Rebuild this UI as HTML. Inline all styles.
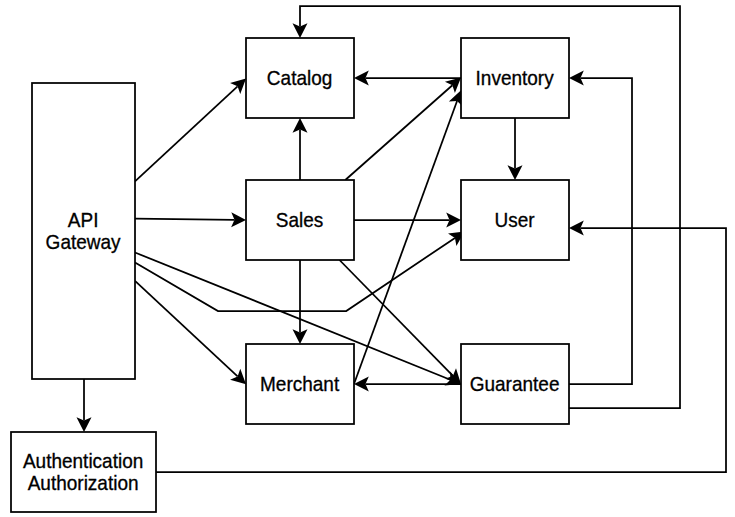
<!DOCTYPE html>
<html><head><meta charset="utf-8"><style>
html,body{margin:0;padding:0;background:#fff;}
svg{display:block;}
.ln{fill:none;stroke:#000;stroke-width:1.75;stroke-linejoin:miter;}
.bx{fill:#fff;stroke:#000;stroke-width:1.75;}
path{fill:#000;}
text{font-family:"Liberation Sans",sans-serif;font-size:19px;text-anchor:middle;fill:#000;stroke:#000;stroke-width:0.3px;}
</style></head><body>
<svg width="735" height="517" viewBox="0 0 735 517">
<path class="ln" d="M569.00,408.00 L680.00,408.00 L680.00,6.00 L300.00,6.00 L300.00,26.50"/>
<path d="M300.00,38.00L292.50,23.20L300.00,26.50L307.50,23.20Z"/>
<path class="ln" d="M569.00,384.00 L632.00,384.00 L632.00,78.00 L580.50,78.00"/>
<path d="M569.00,78.00L583.80,70.50L580.50,78.00L583.80,85.50Z"/>
<path class="ln" d="M156.00,472.00 L726.00,472.00 L726.00,228.00 L580.50,228.00"/>
<path d="M569.00,228.00L583.80,220.50L580.50,228.00L583.80,235.50Z"/>
<path class="ln" d="M135.00,181.40 L237.57,86.32"/>
<path d="M246.00,78.50L240.25,94.06L237.57,86.32L230.05,83.06Z"/>
<path class="ln" d="M135.00,218.70 L234.50,219.87"/>
<path d="M246.00,220.00L231.11,227.33L234.50,219.87L231.29,212.33Z"/>
<path class="ln" d="M135.00,252.50 L450.33,379.70"/>
<path d="M461.00,384.00L444.47,385.42L450.33,379.70L450.08,371.51Z"/>
<path class="ln" d="M135.00,262.40 L218.00,311.00 L346.20,311.00 L454.96,237.91"/>
<path d="M464.50,231.50L456.40,245.98L454.96,237.91L448.03,233.53Z"/>
<path class="ln" d="M135.00,280.80 L237.59,376.46"/>
<path d="M246.00,384.30L230.06,379.69L237.59,376.46L240.29,368.72Z"/>
<path class="ln" d="M84.00,379.00 L84.00,420.50"/>
<path d="M84.00,432.00L76.50,417.20L84.00,420.50L91.50,417.20Z"/>
<path class="ln" d="M300.00,180.00 L300.00,129.50"/>
<path d="M300.00,118.00L307.50,132.80L300.00,129.50L292.50,132.80Z"/>
<path class="ln" d="M345.30,180.00 L452.39,85.22"/>
<path d="M461.00,77.60L454.89,93.03L452.39,85.22L444.95,81.79Z"/>
<path class="ln" d="M354.00,220.00 L449.50,220.00"/>
<path d="M461.00,220.00L446.20,227.50L449.50,220.00L446.20,212.50Z"/>
<path class="ln" d="M300.00,260.00 L300.00,332.50"/>
<path d="M300.00,344.00L292.50,329.20L300.00,332.50L307.50,329.20Z"/>
<path class="ln" d="M339.50,260.00 L452.95,375.79"/>
<path d="M461.00,384.00L445.28,378.68L452.95,375.79L456.00,368.18Z"/>
<path class="ln" d="M354.00,384.00 L457.06,101.01"/>
<path d="M461.00,90.20L462.98,106.67L457.06,101.01L448.89,101.54Z"/>
<path class="ln" d="M461.00,78.00 L365.50,78.00"/>
<path d="M354.00,78.00L368.80,70.50L365.50,78.00L368.80,85.50Z"/>
<path class="ln" d="M461.00,384.00 L365.50,384.00"/>
<path d="M354.00,384.00L368.80,376.50L365.50,384.00L368.80,391.50Z"/>
<path class="ln" d="M515.00,118.00 L515.00,168.50"/>
<path d="M515.00,180.00L507.50,165.20L515.00,168.50L522.50,165.20Z"/>
<rect class="bx" x="32" y="83" width="103" height="296"/>
<rect class="bx" x="246" y="38" width="108" height="80"/>
<rect class="bx" x="461" y="38" width="108" height="80"/>
<rect class="bx" x="246" y="180" width="108" height="80"/>
<rect class="bx" x="461" y="180" width="108" height="80"/>
<rect class="bx" x="246" y="344" width="108" height="80"/>
<rect class="bx" x="461" y="344" width="108" height="80"/>
<rect class="bx" x="11" y="432" width="145" height="80"/>
<text transform="translate(83.10,227.10) scale(1,1.04)">API</text>
<text transform="translate(83.10,248.70) scale(1,1.04)">Gateway</text>
<text transform="translate(299.60,84.90) scale(1,1.04)">Catalog</text>
<text transform="translate(514.60,84.90) scale(1,1.04)">Inventory</text>
<text transform="translate(299.60,226.90) scale(1,1.04)">Sales</text>
<text transform="translate(514.60,226.90) scale(1,1.04)">User</text>
<text transform="translate(299.60,390.90) scale(1,1.04)">Merchant</text>
<text transform="translate(514.60,390.90) scale(1,1.04)">Guarantee</text>
<text transform="translate(83.10,468.10) scale(1,1.04)">Authentication</text>
<text transform="translate(83.10,489.70) scale(1,1.04)">Authorization</text>
</svg>
</body></html>
